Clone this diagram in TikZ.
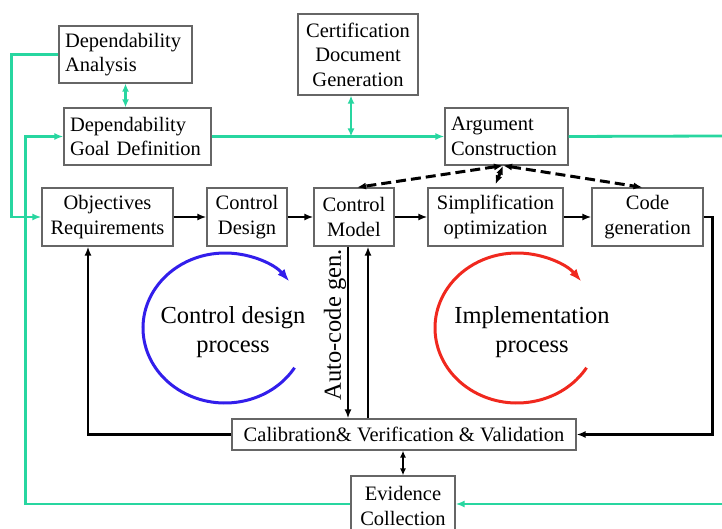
\documentclass[tikz,border=0pt]{standalone}
\usepackage{fontspec}
\setmainfont{Liberation Serif}
\usetikzlibrary{arrows.meta}

\definecolor{link green}{RGB}{40,214,160}
\definecolor{design loop}{RGB}{50,30,235}
\definecolor{impl loop}{RGB}{240,40,30}
\colorlet{box edge}{black!60}
\tikzset{box/.style={draw=box edge, line width=1.2pt, minimum height=57pt, inner sep=0pt,
                     align=center, font=\fontsize{20.5}{24.5}\selectfont},
    lbox/.style={box, align=left, inner xsep=6pt, text width=#1},
    flow/.style={-{Latex[length=9pt,width=7pt]}, line width=2.8pt},
    link/.style={-{Latex[length=9pt,width=7pt]}, line width=2.8pt, draw=link green, color=link green},
    trace/.style={{Latex[length=9pt,width=7pt]}-{Latex[length=9pt,width=7pt]}, line width=3pt,
                  dash pattern=on 10pt off 5pt},
    cycle/.style={-{Latex[length=13pt,width=9pt]}, line width=3pt},
    big/.style={font=\fontsize{24.5}{29}\selectfont, align=center}}

\begin{document}
\begin{tikzpicture}[x=1pt,y=1pt]
  \useasboundingbox (0,0) rectangle (722,529);
  % upper boxes
  \node[lbox=121pt] (ana) at (125.5,474.5) {Dependability\\Analysis};
  \node[lbox=135pt] (goal) at (137.5,392.5) {Dependability\\Goal Definition};
  \node[box, minimum width=120pt, minimum height=81pt] (cert) at (358,474.5) {Certification\\Document\\Generation};
  \node[lbox=111pt] (arg) at (506.5,392.5) {Argument\\Construction};
  % main chain
  \node[box, minimum width=131pt, minimum height=58pt] (obj) at (107.5,312) {Objectives\\Requirements};
  \node[box, minimum width=80pt, minimum height=58pt] (cdes) at (247,312) {Control\\Design};
  \node[box, minimum width=80pt, minimum height=58pt] (cmod) at (354,312) {Control\\Model};
  \node[box, minimum width=135pt, minimum height=58pt] (simp) at (495.5,312) {Simplification\\optimization};
  \node[box, minimum width=111pt, minimum height=58pt] (code) at (647.5,312) {Code\\generation};
  \node[box, minimum width=344pt, minimum height=31pt] (cal) at (404,94.5) {Calibration\& Verification \& Validation};
  \node[box, minimum width=104pt, minimum height=60pt] (evid) at (403,23) {Evidence\\Collection};

  \draw[flow] (obj) -- (cdes);
  \draw[flow] (cdes) -- (cmod);
  \draw[flow] (cmod) -- (simp);
  \draw[flow] (simp) -- (code);
  \draw[flow] (code.east) -- ++(9,0) |- (cal.east);
  \draw[flow] (cal.west) -| ([xshift=-19.5pt]obj.south);
  \draw[flow] ([xshift=-6pt]cmod.south) -- ([xshift=-56pt]cal.north);
  \draw[flow] ([xshift=-36pt]cal.north) -- ([xshift=14pt]cmod.south);
  \node[big, rotate=90] (auto) at (335,204) {Auto-code gen.};
  \draw[{Latex[length=7pt,width=6pt]}-{Latex[length=7pt,width=6pt]}, line width=1.8pt]
    ([xshift=-1pt]cal.south) -- (evid.north);

  % argument traces
  \coordinate (ab) at ([xshift=-3.5pt]arg.south);
  \draw[trace] (ab) -- ([xshift=3pt]cmod.north);
  \draw[trace] (ab) -- ([yshift=3pt]simp.north);
  \draw[trace] (ab) -- ([xshift=-5pt]code.north);

  % green links
  \coordinate (rtop) at (722,393);
  \coordinate (rbot) at (722,25);
  \draw[link] (ana.west) -- ++(-47,0) |- (obj.west);
  \draw[link] ([yshift=2pt]evid.west) -- ++(-325,0) |- (goal.west);
  \draw[link] (goal.east) -- (arg.west);
  \draw[link, -] (arg.east) -- (rtop);
  \draw[link] (rbot) -- ([yshift=2pt]evid.east);
  \draw[link, {Latex[length=8pt,width=7pt]}-{Latex[length=8pt,width=7pt]}]
    ([xshift=-7pt]cert.south) -- ([xshift=-7pt]cert.south |- goal.east);
  \draw[link, {Latex[length=8pt,width=7pt]}-{Latex[length=8pt,width=7pt]}]
    (ana.south) -- (ana.south |- goal.north);

  % process loops
  \draw[cycle, draw=design loop, color=design loop] (225,201) ++(-32:82 and 75)
    arc[start angle=-32, end angle=-322, x radius=82, y radius=75];
  \draw[cycle, draw=impl loop, color=impl loop] (517,201) ++(-32:82 and 75)
    arc[start angle=-32, end angle=-322, x radius=82, y radius=75];
  \node[big] (cdp) at (233,196.5) {Control design\\process};
  \node[big] (imp) at (532,196.5) {Implementation\\process};
\end{tikzpicture}
\end{document}
